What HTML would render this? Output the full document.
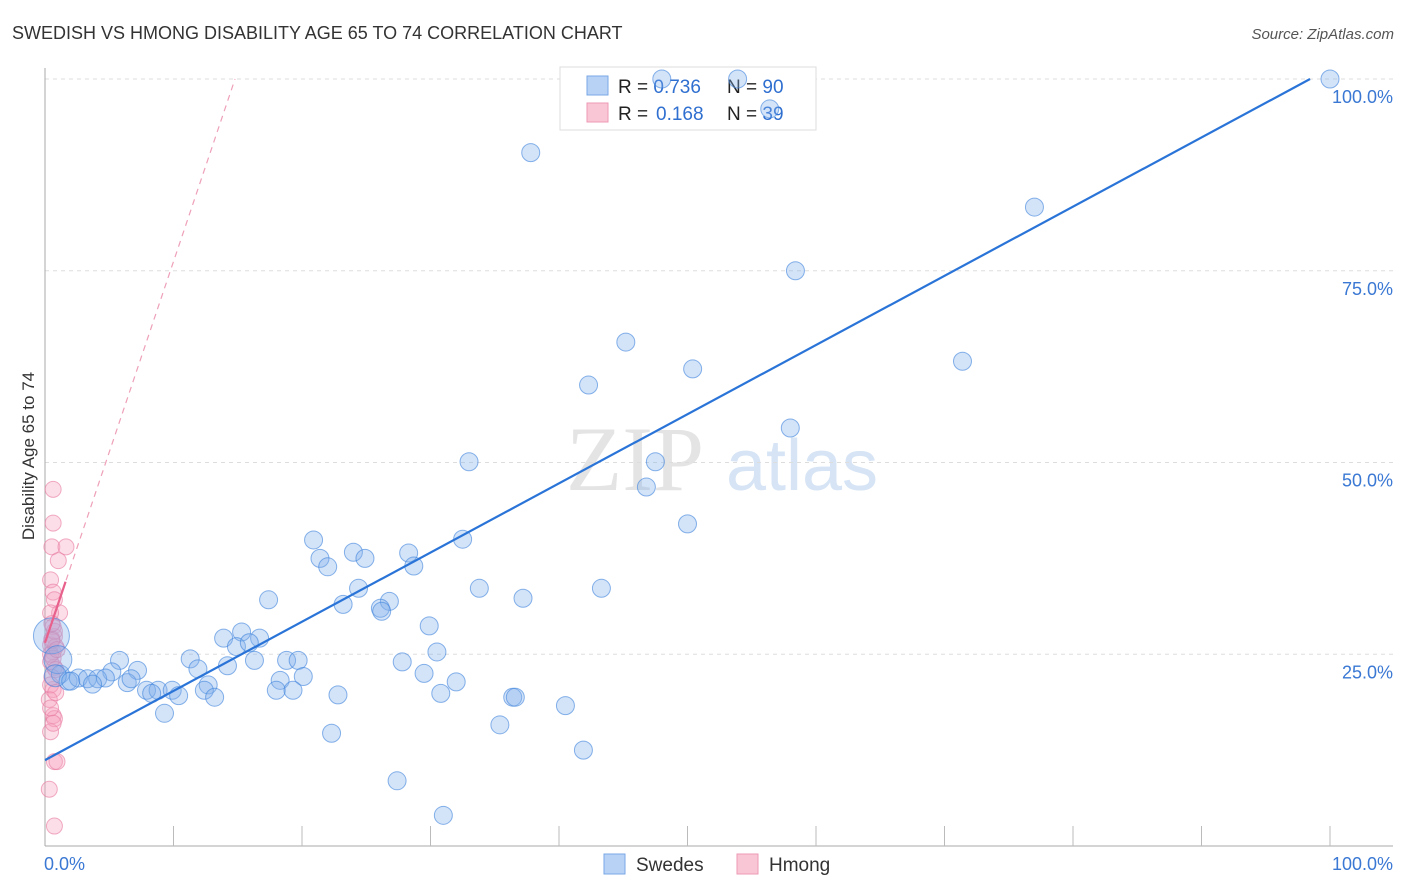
<!DOCTYPE html>
<html><head><meta charset="utf-8"><style>
body{margin:0;background:#fff;font-family:"Liberation Sans",sans-serif;}
#wrap{position:relative;width:1406px;height:892px;overflow:hidden;}
</style></head><body>
<div id="wrap">
<svg id="svg" width="1406" height="892" xmlns="http://www.w3.org/2000/svg">
<text x="12" y="39" font-size="18" fill="#333">SWEDISH VS HMONG DISABILITY AGE 65 TO 74 CORRELATION CHART</text>
<text x="1394" y="39" font-size="15" fill="#555" font-style="italic" text-anchor="end">Source: ZipAtlas.com</text>
<text x="34" y="456" font-size="17" fill="#333" text-anchor="middle" transform="rotate(-90 34 456)">Disability Age 65 to 74</text>
<g>
<text x="635" y="490" font-size="92" fill="#e4e4e4" font-family="Liberation Serif,serif" text-anchor="middle">ZIP</text>
<text x="802" y="490" font-size="72" fill="#d6e4f5" text-anchor="middle">atlas</text>
</g>
<g id="grid"></g><g id="axes"></g>
<g>
<rect x="560" y="67" width="256" height="63" fill="#fff" stroke="#ddd"/>
<rect x="587" y="76" width="21" height="19" fill="#b7d2f5" stroke="#7aa8e6"/>
<rect x="587" y="103" width="21" height="19" fill="#f9c6d5" stroke="#ee9ab5"/>
<text x="618" y="93" font-size="19" fill="#222">R = <tspan fill="#2f6fd0">0.736</tspan><tspan x="727">N = </tspan><tspan fill="#2f6fd0">90</tspan></text>
<text x="618" y="120" font-size="19" fill="#222">R = <tspan fill="#2f6fd0" x="656">0.168</tspan><tspan x="727">N = </tspan><tspan fill="#2f6fd0">39</tspan></text>
</g>
<g id="pts"></g><g id="lines"></g>
<g>
<rect x="604" y="854" width="21" height="20" fill="#b7d2f5" stroke="#7aa8e6"/>
<text x="636" y="871" font-size="19" fill="#333">Swedes</text>
<rect x="737" y="854" width="21" height="20" fill="#f9c6d5" stroke="#ee9ab5"/>
<text x="769" y="871" font-size="19" fill="#333">Hmong</text>
</g>
</svg>
</div>
<script>
const yTicks=[100,75,50,25];
const yTickLabels=["100.0%","75.0%","50.0%","25.0%"];
const xTickLabels=["0.0%","100.0%"];
const swedesX=[100,48,53.9,56.4,37.8,77,58.4,45.2,50.4,42.3,71.4,58,33,47.5,46.8,50,20.9,32.5,24,28.3,21.4,24.9,22,28.7,24.4,33.8,43.3,17.4,37.2,26.8,23.2,26.1,26.2,29.9,13.9,15.3,16.7,14.9,15.9,30.5,5.8,11.3,16.3,18.8,19.7,27.8,7.2,11.9,14.2,5.2,29.5,20.1,18.3,1.2,1.8,2.6,3.3,4.1,4.7,3.7,6.4,6.7,12.7,32,7.9,8.8,9.9,8.3,10.4,12.4,13.2,18,19.3,22.8,30.8,36.4,36.6,40.5,9.3,35.4,22.3,41.9,27.4,31,0.5,1,0.8,2];
const swedesY=[100,100,100,96.1,90.4,83.3,75,65.7,62.2,60.1,63.2,54.5,50.1,50.1,46.8,42,39.9,40,38.3,38.2,37.5,37.5,36.4,36.5,33.6,33.6,33.6,32.1,32.3,31.9,31.5,31,30.6,28.7,27.1,27.9,27.1,26,26.5,25.3,24.2,24.4,24.2,24.2,24.2,24,22.9,23.1,23.5,22.7,22.5,22.1,21.6,22.4,21.5,21.9,21.8,21.8,21.9,21.1,21.3,21.8,21,21.4,20.3,20.3,20.3,19.9,19.6,20.3,19.4,20.3,20.3,19.7,19.9,19.4,19.4,18.3,17.3,15.8,14.7,12.5,8.5,4,27.4,24.3,22.2,21.5];
const swedesR=[9,9,9,9,9,9,9,9,9,9,9,9,9,9,9,9,9,9,9,9,9,9,9,9,9,9,9,9,9,9,9,9,9,9,9,9,9,9,9,9,9,9,9,9,9,9,9,9,9,9,9,9,9,9,9,9,9,9,9,9,9,9,9,9,9,9,9,9,9,9,9,9,9,9,9,9,9,9,9,9,9,9,9,9,18,14,11,9];
const hmongX=[0.4,0.4,0.3,1.4,0.8,0.2,0.4,0.5,0.9,0.2,0.4,0.5,0.2,0.4,0.2,0.5,0.4,0.1,0.4,0.5,0.2,0.5,0.7,0.1,0.5,0.3,0.6,0.2,0.4,0.6,0.3,0.2,0.5,0.3,0.6,0.2,0.4,0.3,0.7];
const hmongY=[46.5,42.1,39,39,37.2,34.7,33.1,32.1,30.4,30.4,28.6,27.3,26.2,25.3,24,23.3,20.4,19.1,17,16.6,14.9,11,11,7.4,2.6,27,26,25,24.5,23,22,21,28,29,20,18,16,26.8,25.6];
const blueLine=[11.2,0.902];
const pinkLine=[26.5,4.97];
const X0=45,X1=1330,Y0=846,Y100=79;
const sx=v=>X0+v*(X1-X0)/100, sy=v=>Y0-v*(Y0-Y100)/100;
const NS="http://www.w3.org/2000/svg";
function mk(tag,attrs,parent){const e=document.createElementNS(NS,tag);for(const k in attrs)e.setAttribute(k,attrs[k]);document.getElementById(parent).appendChild(e);return e;}
yTicks.forEach((t,i)=>{
 const g=mk('line',{x1:45,x2:1393,y1:sy(t),y2:sy(t),stroke:'#ddd','stroke-dasharray':'4,4'},'grid');
 
 
 const l=mk('text',{x:1393,y:sy(t)+24,'font-size':18,fill:'#3a78d4','text-anchor':'end'},'axes');
 l.textContent=yTickLabels[i];
 
 
});
const ax=mk('line',{x1:45,x2:45,y1:68,y2:846,stroke:'#aaa'},'axes');


const bx=mk('line',{x1:45,x2:1393,y1:846,y2:846,stroke:'#aaa'},'axes');


for(let i=1;i<=10;i++){
 const t=mk('line',{x1:sx(i*10),x2:sx(i*10),y1:826,y2:846,stroke:'#bbb'},'axes');
 
 
}
const xl0=mk('text',{x:44,y:870,'font-size':18,fill:'#3a78d4'},'axes');xl0.textContent=xTickLabels[0];


const xl1=mk('text',{x:1393,y:870,'font-size':18,fill:'#3a78d4','text-anchor':'end'},'axes');xl1.textContent=xTickLabels[1];


hmongX.forEach((v,i)=>{
 const c=mk('circle',{cx:sx(v)+3,cy:sy(hmongY[i]),r:8,fill:'rgba(245,160,190,0.35)',stroke:'rgba(232,120,160,0.6)'},'pts');
 
 
});
swedesX.forEach((v,i)=>{
 const c=mk('circle',{cx:sx(v),cy:sy(swedesY[i]),r:swedesR[i],fill:'rgba(130,175,235,0.35)',stroke:'rgba(60,130,220,0.6)'},'pts');
 
 
});
const bEnd=(100-blueLine[0])/blueLine[1];
const bl=mk('line',{x1:sx(0),y1:sy(blueLine[0]),x2:sx(bEnd),y2:sy(100),stroke:'#2a74d8','stroke-width':2.2},'lines');


const pEnd=(100-pinkLine[0])/pinkLine[1];
const pd=mk('line',{x1:sx(0),y1:sy(pinkLine[0]),x2:sx(pEnd),y2:sy(100),stroke:'#eea0b8','stroke-width':1.2,'stroke-dasharray':'6,5'},'lines');


const ps=mk('line',{x1:sx(0),y1:sy(pinkLine[0]),x2:sx(1.6),y2:sy(pinkLine[0]+pinkLine[1]*1.6),stroke:'#e8608c','stroke-width':2.2},'lines');


</script>
</body></html>
